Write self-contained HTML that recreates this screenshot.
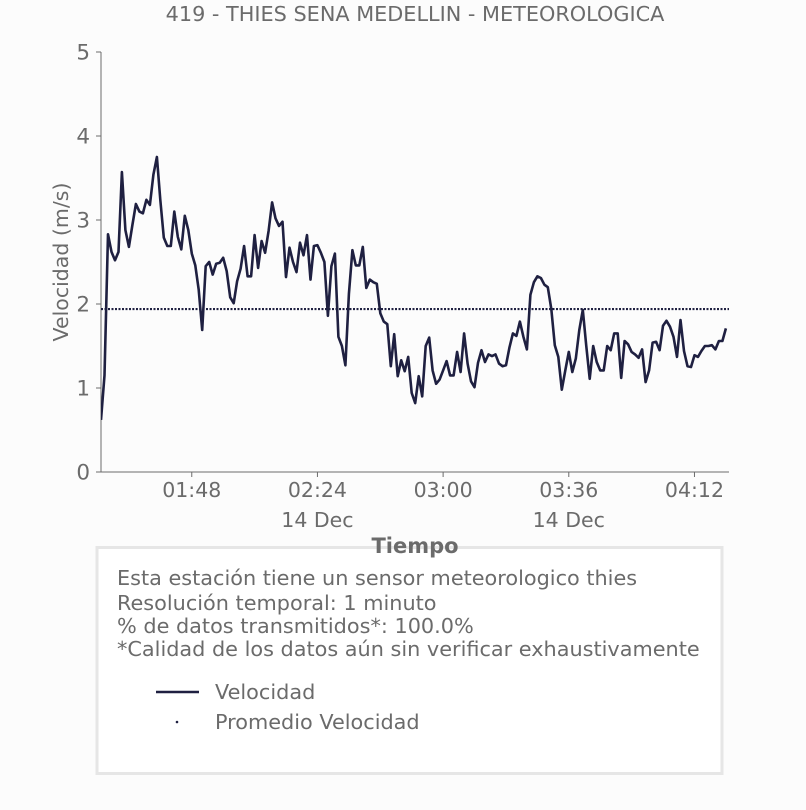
<!DOCTYPE html>
<html><head><meta charset="utf-8">
<style>
html,body{margin:0;padding:0;background:#fcfcfc;}
body{width:806px;height:806px;overflow:hidden;font-family:"DejaVu Sans","Liberation Sans",sans-serif;}
svg text{font-family:"DejaVu Sans","Liberation Sans",sans-serif;fill:#6b6b6b;}
</style></head>
<body>
<svg id="chart" width="806" height="806" xmlns="http://www.w3.org/2000/svg">
<rect x="0" y="0" width="806" height="806" fill="#fcfcfc"/>
<text x="415" y="21" font-size="20.8" text-anchor="middle">419 - THIES SENA MEDELLIN - METEOROLOGICA</text>
<g id="axes"></g>
<g id="series"></g>
<text x="0" y="0" font-size="20.5" text-anchor="middle" transform="translate(68,262) rotate(-90)">Velocidad (m/s)</text>
<g>
<rect x="97" y="547.5" width="625" height="226" fill="#ffffff" stroke="#e6e6e6" stroke-width="3"/>
<text x="117" y="585" font-size="20.8">Esta estación tiene un sensor meteorologico thies</text>
<text x="117" y="610" font-size="20.8">Resolución temporal: 1 minuto</text>
<text x="117" y="633" font-size="20.8">% de datos transmitidos*: 100.0%</text>
<text x="117" y="656" font-size="20.8">*Calidad de los datos aún sin verificar exhaustivamente</text>
<g>
<line x1="156" y1="692" x2="199" y2="692" stroke="#1f2041" stroke-width="2.5"/>
<text x="215" y="699" font-size="20.8">Velocidad</text></g>
<g>
<circle cx="177" cy="722" r="1.3" fill="#1f2041"/>
<text x="215" y="729" font-size="20.8">Promedio Velocidad</text></g>
</g>
<text x="415" y="553" font-size="21" font-weight="bold" text-anchor="middle">Tiempo</text>
</svg>
<script>
const speeds=[0.62,1.15,2.83,2.62,2.52,2.62,3.57,2.88,2.68,2.94,3.19,3.10,3.08,3.24,3.18,3.54,3.75,3.24,2.79,2.69,2.69,3.10,2.80,2.65,3.05,2.88,2.60,2.46,2.17,1.69,2.45,2.50,2.35,2.48,2.49,2.55,2.39,2.08,2.01,2.27,2.42,2.69,2.33,2.33,2.82,2.43,2.75,2.61,2.87,3.21,3.02,2.93,2.98,2.32,2.67,2.50,2.38,2.73,2.58,2.82,2.29,2.69,2.70,2.61,2.50,1.86,2.45,2.60,1.61,1.50,1.27,2.12,2.64,2.46,2.46,2.68,2.19,2.29,2.26,2.24,1.89,1.79,1.76,1.26,1.64,1.14,1.33,1.20,1.37,0.94,0.82,1.14,0.90,1.50,1.60,1.21,1.05,1.10,1.21,1.32,1.15,1.15,1.43,1.19,1.65,1.29,1.08,1.01,1.30,1.45,1.31,1.40,1.38,1.40,1.29,1.26,1.27,1.48,1.65,1.62,1.79,1.61,1.46,2.11,2.26,2.33,2.31,2.23,2.20,1.94,1.51,1.37,0.98,1.21,1.43,1.19,1.35,1.69,1.93,1.51,1.11,1.50,1.31,1.21,1.21,1.50,1.45,1.65,1.65,1.12,1.56,1.52,1.43,1.40,1.36,1.46,1.07,1.21,1.54,1.55,1.45,1.74,1.80,1.73,1.61,1.37,1.81,1.44,1.26,1.25,1.39,1.37,1.44,1.50,1.50,1.51,1.46,1.56,1.56,1.71];
const average=[1.94];
const startMinute=[82];
const yTicks=[0,1,2,3,4,5];
const xTickMinutes=[108,144,180,216,252];
const xTickLabels=["01:48","02:24","03:00","03:36","04:12"];
const xTickDates=["","14 Dec","","14 Dec",""];

const NS="http://www.w3.org/2000/svg";
const L=101,R=729,T=52,B=472;
const pxPerMin=(694.5-191.8)/(252-108);
function xS(m){return L+(m-startMinute[0])*pxPerMin;}
function yS(v){return B-(v/5)*(B-T);}
function mk(tag,attrs,parent){const e=document.createElementNS(NS,tag);for(const k in attrs)e.setAttribute(k,attrs[k]);parent.appendChild(e);return e;}
const axes=document.getElementById('axes');
const series=document.getElementById('series');
let a=mk('line',{x1:L,y1:T,x2:L,y2:B,stroke:'#6b6b6b','stroke-width':1},axes);


a=mk('line',{x1:L,y1:B,x2:R,y2:B,stroke:'#6b6b6b','stroke-width':1},axes);


yTicks.forEach(v=>{
  const y=yS(v);
  const t=mk('line',{x1:L-5,y1:y,x2:L,y2:y,stroke:'#6b6b6b'},axes);
  
  
  const tx=mk('text',{x:L-11,y:y+7.5,'font-size':21.5,'text-anchor':'end'},axes);
  tx.textContent=v;
  
  
});
xTickMinutes.forEach((m,i)=>{
  const x=xS(m);
  const t=mk('line',{x1:x,y1:B,x2:x,y2:B+5,stroke:'#6b6b6b'},axes);
  
  
  const tx=mk('text',{x:x,y:B+25,'font-size':20.5,'text-anchor':'middle'},axes);
  tx.textContent=xTickLabels[i];
  
  
  if(xTickDates[i]){
    const d=mk('text',{x:x,y:B+55,'font-size':20.5,'text-anchor':'middle'},axes);
    d.textContent=xTickDates[i];
    
    
  }
});
const ay=yS(average[0]);
const avg=mk('line',{x1:L,y1:ay,x2:R,y2:ay,stroke:'#1f2041','stroke-width':2.2,'stroke-dasharray':'2,1.5'},series);


const pts=speeds.map((v,i)=>xS(startMinute[0]+i).toFixed(1)+','+yS(v).toFixed(1)).join(' ');
mk('clipPath',{id:'clip'},series);
mk('rect',{x:L,y:T-10,width:R-L,height:B-T+10},document.getElementById('clip'));
const pl=mk('polyline',{points:pts,fill:'none',stroke:'#1f2041','stroke-width':2.6,'stroke-linejoin':'round','clip-path':'url(#clip)'},series);


</script>
</body></html>
